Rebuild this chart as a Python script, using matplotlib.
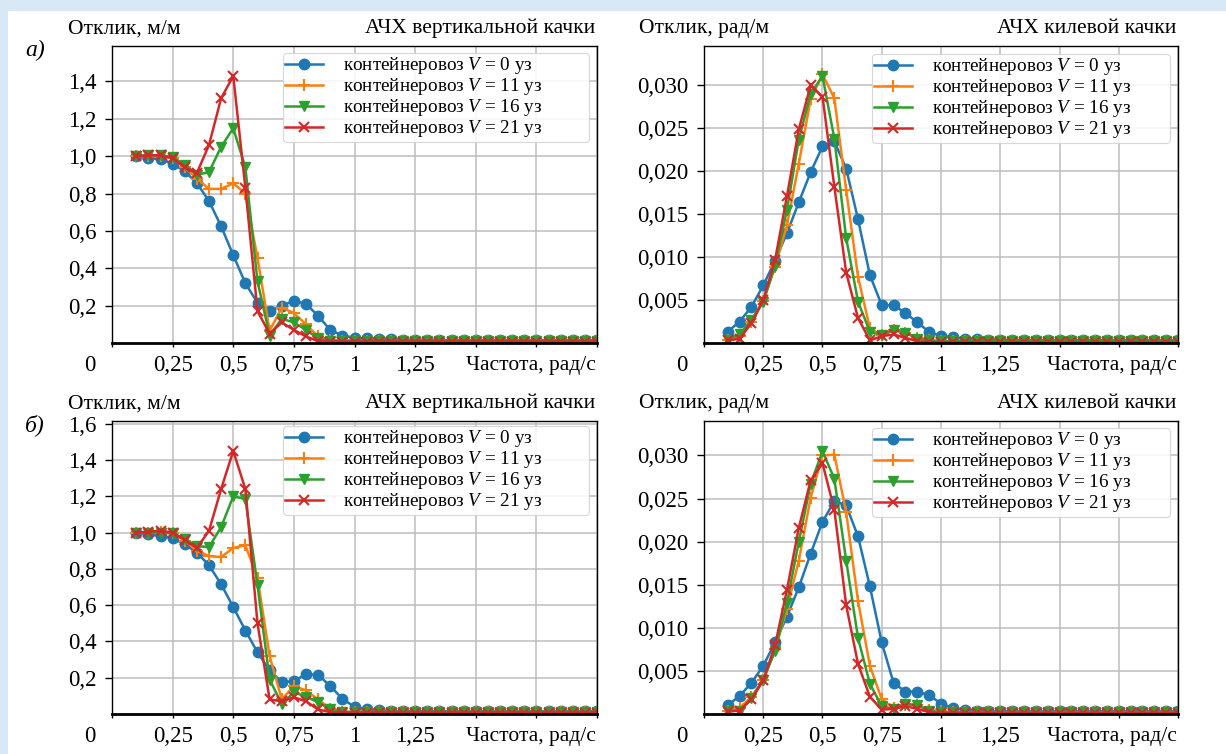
"""Heave and roll RAO curves of a container ship, two loading cases."""

import matplotlib
matplotlib.use('Agg')
import matplotlib.pyplot as plt
from matplotlib.patches import Rectangle

plt.rcParams['font.family'] = ['Liberation Serif', 'DejaVu Serif']
plt.rcParams['mathtext.fontset'] = 'custom'
plt.rcParams['mathtext.it'] = 'Liberation Serif:italic'
plt.rcParams['mathtext.rm'] = 'Liberation Serif'

# Frequency grid, rad/s
FREQ = [0.10, 0.15, 0.20, 0.25, 0.30, 0.35, 0.40, 0.45, 0.50, 0.55,
        0.60, 0.65, 0.70, 0.75, 0.80, 0.85, 0.90, 0.95, 1.00, 1.05,
        1.10, 1.15, 1.20, 1.25, 1.30, 1.35, 1.40, 1.45, 1.50, 1.55,
        1.60, 1.65, 1.70, 1.75, 1.80, 1.85, 1.90, 1.95, 2.00]

SPEEDS = [0, 11, 16, 21]

# a) heave, m/m
HEAVE_A_V0 = [1.000, 0.990, 0.985, 0.960, 0.920, 0.855, 0.760, 0.625, 0.470, 0.320,
              0.215, 0.170, 0.200, 0.225, 0.210, 0.145, 0.070, 0.040, 0.028, 0.025,
              0.022, 0.020, 0.018, 0.017, 0.016, 0.016, 0.015, 0.015, 0.015, 0.015,
              0.015, 0.015, 0.015, 0.015, 0.015, 0.015, 0.015, 0.015, 0.015]
HEAVE_A_V11 = [1.000, 1.000, 1.000, 0.990, 0.940, 0.880, 0.825, 0.825, 0.855, 0.800,
               0.455, 0.065, 0.190, 0.160, 0.100, 0.035, 0.015, 0.012, 0.011, 0.010,
               0.010, 0.010, 0.010, 0.010, 0.010, 0.010, 0.010, 0.010, 0.010, 0.010,
               0.010, 0.010, 0.010, 0.010, 0.010, 0.010, 0.010, 0.010, 0.010]
HEAVE_A_V16 = [1.000, 1.005, 1.005, 0.995, 0.955, 0.900, 0.915, 1.050, 1.150, 0.940,
               0.330, 0.040, 0.130, 0.110, 0.070, 0.025, 0.012, 0.012, 0.012, 0.012,
               0.012, 0.012, 0.012, 0.012, 0.012, 0.012, 0.012, 0.012, 0.012, 0.012,
               0.012, 0.012, 0.012, 0.012, 0.012, 0.012, 0.012, 0.012, 0.012]
HEAVE_A_V21 = [1.000, 1.005, 1.005, 0.990, 0.940, 0.910, 1.060, 1.310, 1.430, 0.830,
               0.170, 0.050, 0.110, 0.070, 0.035, 0.010, 0.008, 0.008, 0.008, 0.008,
               0.008, 0.008, 0.008, 0.008, 0.008, 0.008, 0.008, 0.008, 0.008, 0.008,
               0.008, 0.008, 0.008, 0.008, 0.008, 0.008, 0.008, 0.008, 0.008]

# a) roll, rad/m
ROLL_A_V0 = [0.0013, 0.0025, 0.0042, 0.0067, 0.0096, 0.0128, 0.0164, 0.0199, 0.0229, 0.0235,
             0.0203, 0.0144, 0.0079, 0.0044, 0.0044, 0.0035, 0.0024, 0.0013, 0.0008, 0.0007,
             0.0005, 0.0005, 0.0004, 0.0004, 0.0003, 0.0003, 0.0003, 0.0003, 0.0003, 0.0003,
             0.0003, 0.0003, 0.0003, 0.0003, 0.0003, 0.0003, 0.0003, 0.0003, 0.0003]
ROLL_A_V11 = [0.0004, 0.0008, 0.0024, 0.0049, 0.0089, 0.0137, 0.0209, 0.0284, 0.0313, 0.0285,
              0.0178, 0.0077, 0.0017, 0.0009, 0.0015, 0.0012, 0.0006, 0.0003, 0.0002, 0.0002,
              0.0002, 0.0002, 0.0002, 0.0002, 0.0002, 0.0002, 0.0002, 0.0002, 0.0002, 0.0002,
              0.0002, 0.0002, 0.0002, 0.0002, 0.0002, 0.0002, 0.0002, 0.0002, 0.0002]
ROLL_A_V16 = [0.0004, 0.0010, 0.0027, 0.0048, 0.0090, 0.0155, 0.0237, 0.0290, 0.0311, 0.0238,
              0.0122, 0.0048, 0.0013, 0.0009, 0.0015, 0.0012, 0.0005, 0.0003, 0.0002, 0.0002,
              0.0002, 0.0002, 0.0002, 0.0002, 0.0002, 0.0002, 0.0002, 0.0002, 0.0002, 0.0002,
              0.0002, 0.0002, 0.0002, 0.0002, 0.0002, 0.0002, 0.0002, 0.0002, 0.0002]
ROLL_A_V21 = [0.0003, 0.0005, 0.0023, 0.0050, 0.0097, 0.0171, 0.0249, 0.0300, 0.0287, 0.0182,
              0.0082, 0.0029, 0.0003, 0.0008, 0.0010, 0.0006, 0.0002, 0.0001, 0.0001, 0.0001,
              0.0001, 0.0001, 0.0001, 0.0001, 0.0001, 0.0001, 0.0001, 0.0001, 0.0001, 0.0001,
              0.0001, 0.0001, 0.0001, 0.0001, 0.0001, 0.0001, 0.0001, 0.0001, 0.0001]

# б) heave, m/m
HEAVE_B_V0 = [1.000, 0.990, 0.980, 0.970, 0.935, 0.890, 0.820, 0.715, 0.590, 0.460,
              0.340, 0.240, 0.177, 0.180, 0.220, 0.215, 0.155, 0.083, 0.040, 0.025,
              0.020, 0.015, 0.015, 0.015, 0.015, 0.015, 0.015, 0.015, 0.015, 0.015,
              0.015, 0.015, 0.015, 0.015, 0.015, 0.015, 0.015, 0.015, 0.015]
HEAVE_B_V11 = [1.000, 1.000, 1.005, 0.995, 0.955, 0.900, 0.870, 0.865, 0.915, 0.930,
               0.750, 0.320, 0.080, 0.155, 0.130, 0.080, 0.030, 0.012, 0.010, 0.010,
               0.010, 0.010, 0.010, 0.010, 0.010, 0.010, 0.010, 0.010, 0.010, 0.010,
               0.010, 0.010, 0.010, 0.010, 0.010, 0.010, 0.010, 0.010, 0.010]
HEAVE_B_V16 = [1.000, 1.000, 1.000, 0.995, 0.965, 0.925, 0.920, 1.030, 1.200, 1.185,
               0.710, 0.190, 0.055, 0.120, 0.095, 0.065, 0.025, 0.012, 0.012, 0.012,
               0.012, 0.012, 0.012, 0.012, 0.012, 0.012, 0.012, 0.012, 0.012, 0.012,
               0.012, 0.012, 0.012, 0.012, 0.012, 0.012, 0.012, 0.012, 0.012]
HEAVE_B_V21 = [1.000, 1.005, 1.010, 1.000, 0.960, 0.915, 1.010, 1.240, 1.450, 1.240,
               0.500, 0.080, 0.070, 0.092, 0.070, 0.025, 0.010, 0.008, 0.008, 0.008,
               0.008, 0.008, 0.008, 0.008, 0.008, 0.008, 0.008, 0.008, 0.008, 0.008,
               0.008, 0.008, 0.008, 0.008, 0.008, 0.008, 0.008, 0.008, 0.008]

# б) roll, rad/m
ROLL_B_V0 = [0.0010, 0.0021, 0.0036, 0.0056, 0.0083, 0.0113, 0.0147, 0.0186, 0.0223, 0.0247,
             0.0242, 0.0206, 0.0148, 0.0083, 0.0036, 0.0026, 0.0026, 0.0022, 0.0012, 0.0007,
             0.0005, 0.0004, 0.0003, 0.0003, 0.0003, 0.0003, 0.0003, 0.0003, 0.0003, 0.0003,
             0.0003, 0.0003, 0.0003, 0.0003, 0.0003, 0.0003, 0.0003, 0.0003, 0.0003]
ROLL_B_V11 = [0.0003, 0.0007, 0.0020, 0.0040, 0.0075, 0.0122, 0.0178, 0.0251, 0.0300, 0.0301,
              0.0234, 0.0131, 0.0056, 0.0017, 0.0007, 0.0011, 0.0010, 0.0005, 0.0003, 0.0002,
              0.0002, 0.0002, 0.0002, 0.0002, 0.0002, 0.0002, 0.0002, 0.0002, 0.0002, 0.0002,
              0.0002, 0.0002, 0.0002, 0.0002, 0.0002, 0.0002, 0.0002, 0.0002, 0.0002]
ROLL_B_V16 = [0.0003, 0.0004, 0.0018, 0.0040, 0.0073, 0.0129, 0.0200, 0.0267, 0.0305, 0.0273,
              0.0178, 0.0088, 0.0035, 0.0009, 0.0006, 0.0012, 0.0010, 0.0004, 0.0002, 0.0002,
              0.0002, 0.0002, 0.0002, 0.0002, 0.0002, 0.0002, 0.0002, 0.0002, 0.0002, 0.0002,
              0.0002, 0.0002, 0.0002, 0.0002, 0.0002, 0.0002, 0.0002, 0.0002, 0.0002]
ROLL_B_V21 = [0.0003, 0.0004, 0.0017, 0.0039, 0.0080, 0.0144, 0.0216, 0.0271, 0.0291, 0.0237,
              0.0126, 0.0058, 0.0020, 0.0005, 0.0006, 0.0009, 0.0006, 0.0002, 0.0001, 0.0001,
              0.0001, 0.0001, 0.0001, 0.0001, 0.0001, 0.0001, 0.0001, 0.0001, 0.0001, 0.0001,
              0.0001, 0.0001, 0.0001, 0.0001, 0.0001, 0.0001, 0.0001, 0.0001, 0.0001]

X_TICKS = [0, 0.25, 0.5, 0.75, 1, 1.25, 1.5, 1.75, 2]
X_TICK_LABELS = ['', '0,25', '0,5', '0,75', '1', '1,25', '', '', '']
HEAVE_TICKS = [0.2, 0.4, 0.6, 0.8, 1.0, 1.2, 1.4, 1.6]
HEAVE_TICK_LABELS = ['0,2', '0,4', '0,6', '0,8', '1,0', '1,2', '1,4', '1,6']
ROLL_TICKS = [0.005, 0.010, 0.015, 0.020, 0.025, 0.030]
ROLL_TICK_LABELS = ['0,005', '0,010', '0,015', '0,020', '0,025', '0,030']

COLORS = ['#1f77b4', '#ff7f0e', '#2ca02c', '#d62728']
MARKERS = ['o', '+', 'v', 'x']
MSIZES = [7.5, 9, 7, 7]

W, H = 1226, 754
FS = 15.5
TICK_FS = 16.5


def px_box(left, top, right, bottom):
    """Convert pixel box (from top-left) to figure fraction rect."""
    return [left / W, 1 - bottom / H, (right - left) / W, (bottom - top) / H]


def draw_panel(ax, series, ylim, yticks, yticklabels, ylabel, title, head_dx, leg_x0, leg_x1, leg_top):
    for vals, spd, c, m, ms in zip(series, SPEEDS, COLORS, MARKERS, MSIZES):
        ax.plot(FREQ, vals, color=c, marker=m, markersize=ms, linewidth=1.8,
                markeredgewidth=1.5 if m in '+x' else 1.0,
                label=f'контейнеровоз $V$ = {spd} уз')
    ax.set_xlim(0, 2)
    ax.set_ylim(*ylim)
    ax.set_xticks(X_TICKS)
    ax.set_xticklabels(X_TICK_LABELS)
    n = len([t for t in yticks if t <= ylim[1] + 1e-9])
    ax.set_yticks(yticks[:n])
    ax.set_yticklabels(yticklabels[:n])
    ax.tick_params(labelsize=TICK_FS, width=1, direction='out')
    ax.tick_params(axis='x', length=3, pad=6)
    ax.tick_params(axis='y', length=5, pad=6)
    ax.grid(True, color='#bdbdbd', linewidth=1.1)
    ax.set_axisbelow(True)
    for s in ax.spines.values():
        s.set_color('black')
        s.set_linewidth(1.0)
    ax.spines['bottom'].set_linewidth(2.0)
    leg = ax.legend(loc='upper left',
                    bbox_to_anchor=(leg_x0, leg_top - 0.3, leg_x1 - leg_x0, 0.3),
                    mode='expand', borderaxespad=0, fontsize=13.8, handlelength=2.0,
                    handletextpad=1.0, labelspacing=0.0, borderpad=0.12,
                    framealpha=0.85, edgecolor='#d0d0d0')
    leg.get_frame().set_linewidth(0.8)
    # header texts above the axes
    ax.annotate(ylabel, xy=(0, 1), xycoords='axes fraction', xytext=(head_dx, 12.5),
                textcoords='offset points', ha='left', va='center', fontsize=FS)
    ax.annotate(title, xy=(1, 1), xycoords='axes fraction', xytext=(-1.5, 12.5),
                textcoords='offset points', ha='right', va='center', fontsize=FS)
    # origin label and x axis caption
    ax.annotate('0', xy=(0, 0), xycoords='axes fraction', xytext=(-16, -16.5),
                textcoords='offset points', ha='center', va='center', fontsize=TICK_FS)
    ax.annotate('Частота, рад/с', xy=(1, 0), xycoords='axes fraction', xytext=(-1, -16.5),
                textcoords='offset points', ha='right', va='center', fontsize=FS)


fig = plt.figure(figsize=(W / 100, H / 100), dpi=100, facecolor='#d8e8f4')
fig.patches.append(Rectangle((8 / W, 0), 1, 1 - 11 / H, transform=fig.transFigure,
                             facecolor='white', edgecolor='none', zorder=-10))

ax_ta = fig.add_axes(px_box(112, 46, 597, 343))
ax_tr = fig.add_axes(px_box(704, 46, 1178, 343))
ax_ba = fig.add_axes(px_box(112, 421, 597, 714))
ax_br = fig.add_axes(px_box(704, 421, 1178, 714))

draw_panel(ax_ta, [HEAVE_A_V0, HEAVE_A_V11, HEAVE_A_V16, HEAVE_A_V21], (0, 1.59),
           HEAVE_TICKS, HEAVE_TICK_LABELS, 'Отклик, м/м', 'АЧХ вертикальной качки',
           -32, 0.352, 0.983, 0.976)
draw_panel(ax_tr, [ROLL_A_V0, ROLL_A_V11, ROLL_A_V16, ROLL_A_V21], (0, 0.0346),
           ROLL_TICKS, ROLL_TICK_LABELS, 'Отклик, рад/м', 'АЧХ килевой качки',
           -47, 0.354, 0.983, 0.973)
draw_panel(ax_ba, [HEAVE_B_V0, HEAVE_B_V11, HEAVE_B_V16, HEAVE_B_V21], (0, 1.615),
           HEAVE_TICKS, HEAVE_TICK_LABELS, 'Отклик, м/м', 'АЧХ вертикальной качки',
           -32, 0.352, 0.983, 0.983)
draw_panel(ax_br, [ROLL_B_V0, ROLL_B_V11, ROLL_B_V16, ROLL_B_V21], (0, 0.034),
           ROLL_TICKS, ROLL_TICK_LABELS, 'Отклик, рад/м', 'АЧХ килевой качки',
           -47, 0.354, 0.983, 0.976)

fig.text(35 / W, 1 - 50 / H, 'а)', fontsize=17, style='italic', ha='center', va='center')
fig.text(35 / W, 1 - 425 / H, 'б)', fontsize=17, style='italic', ha='center', va='center')

fig.savefig('out.png', dpi=100, facecolor=fig.get_facecolor())
